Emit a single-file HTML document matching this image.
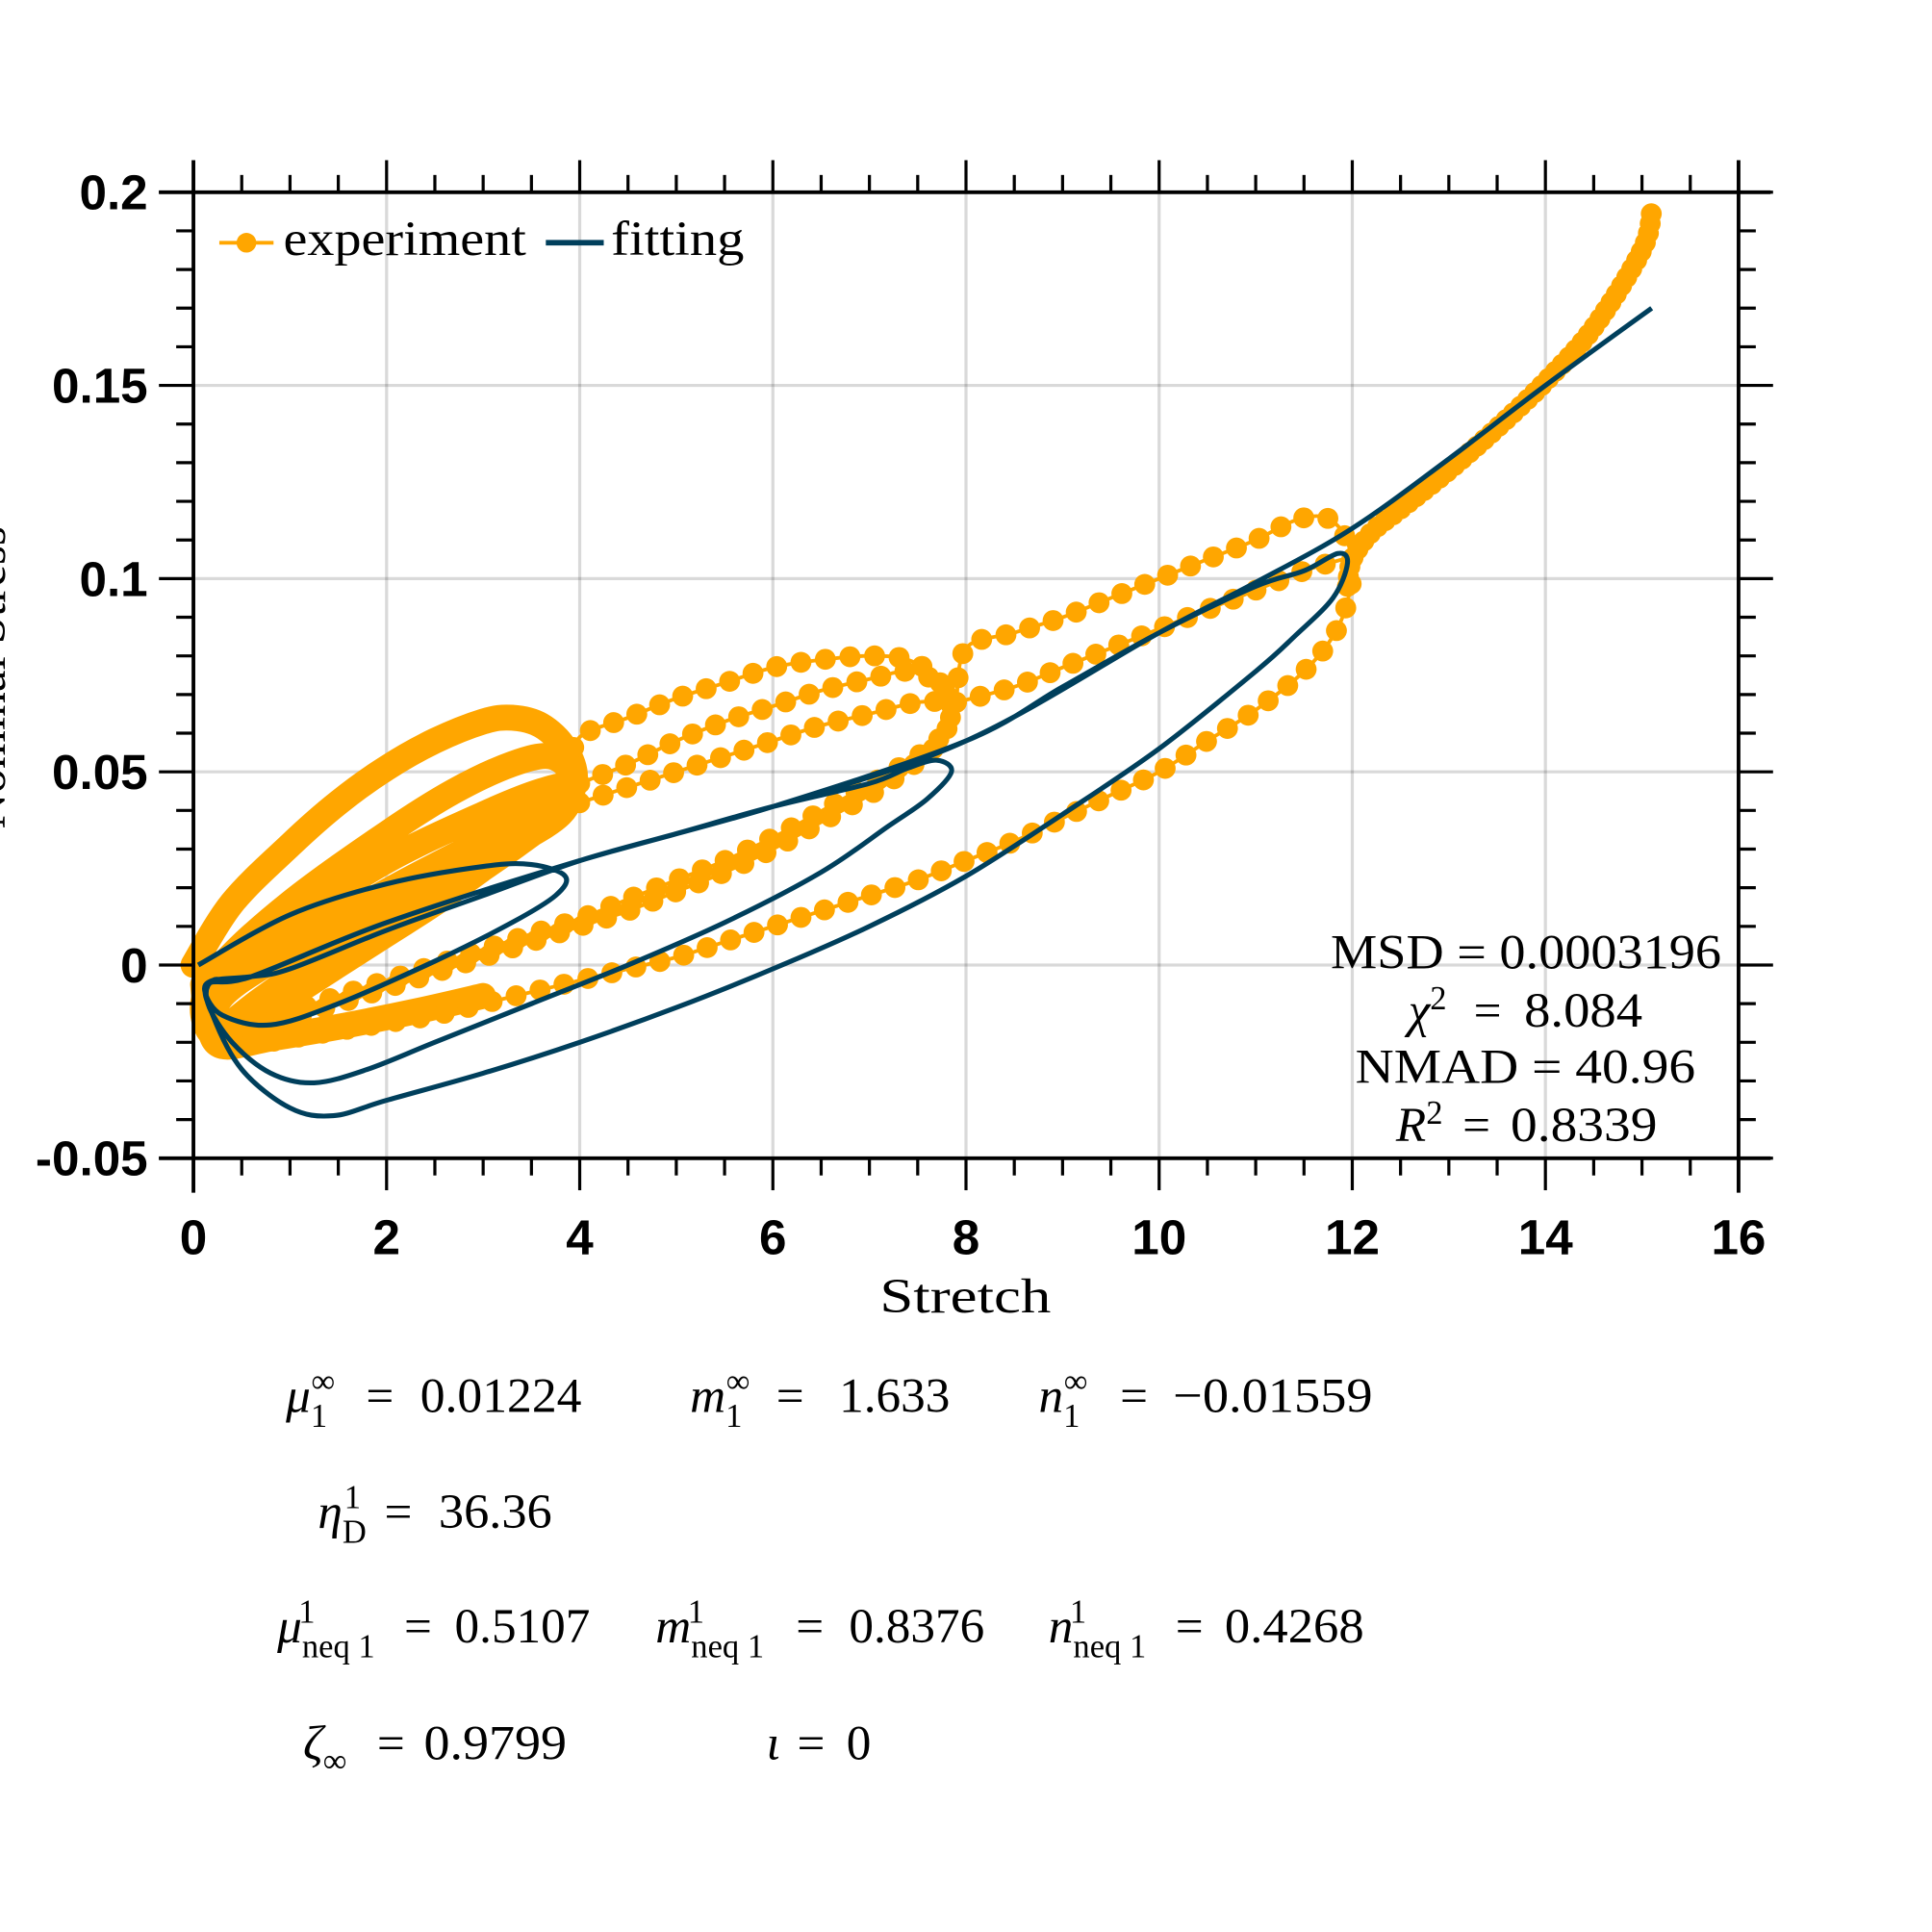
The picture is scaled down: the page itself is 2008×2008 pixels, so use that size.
<!DOCTYPE html>
<html><head><meta charset="utf-8">
<style>
html,body{margin:0;padding:0;background:#fff;}
svg{display:block;}
.tick{font-family:"Liberation Sans",sans-serif;font-weight:bold;font-size:40px;fill:#000;}
.m{font-family:"Liberation Serif",serif;font-size:40px;fill:#000;}
.s{font-size:27px;}
</style></head>
<body>
<svg id="chart" width="2008" height="2008" viewBox="0 0 1568 1568" xmlns="http://www.w3.org/2000/svg">
<g id="grid"></g>
<g id="series"></g>
<g id="axes"></g>

<text class="m" x="714" y="1065" textLength="139" lengthAdjust="spacingAndGlyphs">Stretch</text>
<text class="m" transform="translate(4,550) rotate(-90)" text-anchor="middle">Nominal Stress</text>

<g>
  <g>
    <line x1="178" y1="197" x2="222" y2="197" stroke="#ffa600" stroke-width="3"/>
    <circle cx="200" cy="197" r="8" fill="#ffa600"/>
    <text class="m" x="230" y="207" textLength="197" lengthAdjust="spacingAndGlyphs">experiment</text>
  </g>
  <g>
    <line x1="443" y1="197" x2="490" y2="197" stroke="#003f5c" stroke-width="4.5"/>
    <text class="m" x="496" y="207" textLength="108" lengthAdjust="spacingAndGlyphs">fitting</text>
  </g>
</g>

<g>
  <text class="m" x="1080" y="786" textLength="317" lengthAdjust="spacingAndGlyphs">MSD = 0.0003196</text>
  <text class="m" x="1143" y="833"><tspan font-style="italic">χ</tspan><tspan class="s" dy="-14">2</tspan><tspan dy="14" x="1196">=</tspan><tspan x="1237" textLength="96" lengthAdjust="spacingAndGlyphs">8.084</tspan></text>
  <text class="m" x="1100" y="879" textLength="276" lengthAdjust="spacingAndGlyphs">NMAD = 40.96</text>
  <text class="m" x="1133" y="926"><tspan font-style="italic">R</tspan><tspan class="s" dy="-14">2</tspan><tspan dy="14" x="1187">=</tspan><tspan x="1226" textLength="119" lengthAdjust="spacingAndGlyphs">0.8339</tspan></text>
</g>

<g>
  <text class="m" x="232" y="1146"><tspan font-style="italic">μ</tspan><tspan class="s" dy="12">1</tspan><tspan class="s" dx="-13" dy="-28">∞</tspan><tspan dy="16" x="297">=</tspan><tspan x="341" textLength="131" lengthAdjust="spacingAndGlyphs">0.01224</tspan></text>
  <text class="m" x="560" y="1146"><tspan font-style="italic">m</tspan><tspan class="s" dy="12">1</tspan><tspan class="s" dx="-13" dy="-28">∞</tspan><tspan dy="16" x="630">=</tspan><tspan x="681" textLength="90" lengthAdjust="spacingAndGlyphs">1.633</tspan></text>
  <text class="m" x="843" y="1146"><tspan font-style="italic">n</tspan><tspan class="s" dy="12">1</tspan><tspan class="s" dx="-13" dy="-28">∞</tspan><tspan dy="16" x="909">=</tspan><tspan x="952" textLength="162" lengthAdjust="spacingAndGlyphs">−0.01559</tspan></text>
  <text class="m" x="258" y="1240"><tspan font-style="italic">η</tspan><tspan class="s" dy="12">D</tspan><tspan class="s" dx="-18" dy="-28">1</tspan><tspan dy="16" x="312">=</tspan><tspan x="356" textLength="92" lengthAdjust="spacingAndGlyphs">36.36</tspan></text>
  <text class="m" x="225" y="1333"><tspan font-style="italic">μ</tspan><tspan class="s" dy="12">neq 1</tspan><tspan class="s" dx="-62" dy="-28">1</tspan><tspan dy="16" x="328">=</tspan><tspan x="369" textLength="110" lengthAdjust="spacingAndGlyphs">0.5107</tspan></text>
  <text class="m" x="532" y="1333"><tspan font-style="italic">m</tspan><tspan class="s" dy="12">neq 1</tspan><tspan class="s" dx="-62" dy="-28">1</tspan><tspan dy="16" x="646">=</tspan><tspan x="689" textLength="110" lengthAdjust="spacingAndGlyphs">0.8376</tspan></text>
  <text class="m" x="851" y="1333"><tspan font-style="italic">n</tspan><tspan class="s" dy="12">neq 1</tspan><tspan class="s" dx="-62" dy="-28">1</tspan><tspan dy="16" x="954">=</tspan><tspan x="994" textLength="113" lengthAdjust="spacingAndGlyphs">0.4268</tspan></text>
  <text class="m" x="246" y="1428"><tspan font-style="italic">ζ</tspan><tspan class="s" dy="10">∞</tspan><tspan dy="-10" x="306">=</tspan><tspan x="344" textLength="116" lengthAdjust="spacingAndGlyphs">0.9799</tspan></text>
  <text class="m" x="622" y="1428"><tspan font-style="italic">ι</tspan><tspan x="647">=</tspan><tspan x="687">0</tspan></text>
</g>
</svg>

<script>
const xTicks = [0,2,4,6,8,10,12,14,16];
const yTicks = [-0.05,0,0.05,0.1,0.15,0.2];
const yTickLabels = ["-0.05","0","0.05","0.1","0.15","0.2"];
// experiment segments: [stretch, stress]
const expDense1 = [[0,0.0],[0.4,0.016],[1,0.031],[1.5,0.042],[2,0.051],[2.5,0.058],[3,0.063],[3.3,0.064],[3.6,0.062],[3.85,0.056],[3.95,0.048],[3.8,0.04],[3.4,0.032],[3,0.025],[2.5,0.016],[2,0.008],[1.5,0.0],[1,-0.008],[0.5,-0.015],[0.2,-0.018],[0.1,-0.01],[0.3,0.0],[1,0.016],[2,0.034],[2.7,0.045],[3.3,0.052],[3.7,0.054],[3.9,0.049],[3.7,0.04],[3,0.028],[2,0.012],[1,-0.004],[0.3,-0.016],[0.15,-0.008],[0.4,0.0],[1,0.011],[2,0.027],[3,0.039],[3.6,0.045],[3.9,0.046],[3.8,0.039],[3.3,0.031],[2.5,0.02],[1.5,0.005],[0.7,-0.009],[0.2,-0.018],[0.3,-0.008],[1,0.004],[2,0.019],[3,0.032],[3.9,0.043]];
const expDenseLow = [[0.1,-0.005],[0.15,-0.015],[0.3,-0.021],[0.8,-0.019],[1.5,-0.016],[2.3,-0.012],[3,-0.008]];
const expBeadB1 = [[3.9,0.05],[4,0.059],[4.5,0.064],[5,0.069],[5.5,0.073],[6,0.077],[6.5,0.079],[7,0.08],[7.4,0.079],[7.7,0.074],[7.85,0.066],[7.7,0.057],[7.3,0.049],[7,0.044],[6.5,0.037],[6,0.03],[5.5,0.024],[5,0.019],[4.5,0.014],[4,0.01],[3.5,0.006],[3,0.002],[2.5,-0.002],[2,-0.006],[1.5,-0.01],[1,-0.014],[0.5,-0.018],[0.25,-0.019]];
const expBeadB2 = [[4,0.047],[4.5,0.052],[5,0.058],[5.5,0.063],[6,0.067],[6.5,0.071],[7,0.074],[7.4,0.076],[7.7,0.073],[7.85,0.066],[7.7,0.058],[7.3,0.051],[6.8,0.044],[6.3,0.037],[6,0.033],[5.5,0.027],[5,0.022],[4.5,0.017],[4,0.012],[3.5,0.008],[3,0.004],[2.5,0.0],[2,-0.004],[1.5,-0.008],[1,-0.012],[0.5,-0.016],[0.25,-0.018]];
const expBeadB3 = [[4,0.042],[4.5,0.046],[5,0.05],[5.5,0.054],[6,0.058],[6.5,0.062],[7,0.065],[7.5,0.068],[7.9,0.068]];
const expBeadC1 = [[7.9,0.068],[8,0.082],[8.5,0.086],[9,0.09],[9.5,0.095],[10,0.1],[10.5,0.105],[11,0.11],[11.4,0.115],[11.7,0.116],[11.9,0.112],[12,0.104],[11.95,0.094],[11.8,0.085],[11.5,0.076],[11,0.066],[10.5,0.058],[10,0.05],[9.5,0.044],[9,0.038],[8.5,0.032],[8,0.027],[7.5,0.022],[7,0.018],[6.5,0.014],[6,0.01],[5.5,0.006],[5,0.002],[4.5,-0.001],[4,-0.004],[3.5,-0.007],[3,-0.01],[2.5,-0.013],[2,-0.015],[1.5,-0.017],[1,-0.019],[0.5,-0.021],[0.3,-0.021]];
const expBeadC2 = [[7.9,0.068],[8.5,0.072],[9,0.077],[9.5,0.082],[10,0.087],[10.5,0.092],[11,0.097],[11.5,0.102],[11.9,0.105]];
const expDense2 = [[11.95,0.098],[12,0.105],[12.2,0.112],[12.5,0.118],[13,0.128],[13.5,0.139],[14,0.151],[14.5,0.165],[15,0.185],[15.1,0.195]];
// fitting model curve
const fitCurve = [[0.05,0.0],[1,0.013],[2,0.021],[3,0.0255],[3.5,0.026],[3.85,0.023],[3.75,0.018],[3.3,0.011],[2.5,0.001],[1.5,-0.01],[0.8,-0.0155],[0.3,-0.013],[0.12,-0.007],[0.2,-0.004],[0.6,-0.003],[1,-0.001],[2,0.009],[3,0.018],[4,0.027],[5,0.034],[6,0.041],[7,0.047],[7.4,0.051],[7.7,0.053],[7.85,0.05],[7.6,0.043],[7.2,0.036],[6.5,0.024],[5.5,0.011],[4.5,0.0],[3.5,-0.01],[2.5,-0.02],[1.8,-0.027],[1.25,-0.0305],[0.8,-0.028],[0.4,-0.02],[0.15,-0.01],[0.2,-0.004],[0.6,-0.003],[2,0.011],[4,0.027],[6,0.041],[8,0.058],[9,0.072],[10,0.086],[11,0.098],[11.5,0.102],[11.85,0.1065],[11.95,0.104],[11.8,0.095],[11.4,0.085],[11,0.076],[10,0.056],[9,0.039],[8,0.023],[7,0.01],[6,-0.001],[5,-0.011],[4,-0.02],[3,-0.028],[2,-0.035],[1.45,-0.039],[1,-0.037],[0.5,-0.027],[0.2,-0.013],[0.15,-0.005],[0.6,-0.003],[2,0.011],[4,0.027],[6,0.041],[8,0.058],[10,0.086],[11,0.099],[12,0.113],[13,0.131],[14,0.15],[15.1,0.17]];

const X0=157, X1=1411, Y0=940, Y1=156;
const sx = v => X0 + (v-0)/(16-0)*(X1-X0);
const sy = v => Y0 - (v-(-0.05))/(0.25)*(Y0-Y1);
const NS='http://www.w3.org/2000/svg';
function mk(tag, attrs, parent){const e=document.createElementNS(NS,tag);for(const k in attrs)e.setAttribute(k,attrs[k]);parent.appendChild(e);return e;}
const grid=document.getElementById('grid'), axes=document.getElementById('axes'), series=document.getElementById('series');

xTicks.forEach(t=>{
  const g=mk('line',{x1:sx(t),x2:sx(t),y1:Y1,y2:Y0,stroke:'#000','stroke-opacity':0.15,'stroke-width':2.5},grid);
  
  
});
yTicks.forEach(t=>{
  const g=mk('line',{x1:X0,x2:X1,y1:sy(t),y2:sy(t),stroke:'#000','stroke-opacity':0.15,'stroke-width':2.5},grid);
  
  
});

// smooth path (Catmull-Rom -> cubic Bezier) through the data points
function path(pts){
  const P=pts.map(p=>[sx(p[0]),sy(p[1])]);
  let d='M'+P[0][0].toFixed(1)+','+P[0][1].toFixed(1);
  for(let i=0;i < P.length-1;i++){
    const p0=P[Math.max(i-1,0)],p1=P[i],p2=P[i+1],p3=P[Math.min(i+2,P.length-1)];
    const c1=[p1[0]+(p2[0]-p0[0])/6,p1[1]+(p2[1]-p0[1])/6];
    const c2=[p2[0]-(p3[0]-p1[0])/6,p2[1]-(p3[1]-p1[1])/6];
    d+=' C'+c1[0].toFixed(1)+','+c1[1].toFixed(1)+' '+c2[0].toFixed(1)+','+c2[1].toFixed(1)+' '+p2[0].toFixed(1)+','+p2[1].toFixed(1);
  }
  return d;
}
const OR='#ffa600';
[expDense1,expDenseLow].forEach(s=>{
  const p=mk('path',{d:path(s),fill:'none',stroke:OR,'stroke-width':21,'stroke-linejoin':'round','stroke-linecap':'round'},series);
  
  
});
[expBeadB1,expBeadB2,expBeadB3,expBeadC1,expBeadC2,expDense2].forEach((s,i)=>{
  const l=mk('path',{d:path(s),fill:'none',stroke:OR,'stroke-width':3},series);
  
  
  const b=mk('path',{d:path(s),fill:'none',stroke:OR,'stroke-width':17,'stroke-linecap':'round','stroke-dasharray':i===5?'0 8':'0 20'},series);
  
  
});
const fp=mk('path',{d:path(fitCurve),fill:'none',stroke:'#003f5c','stroke-width':4,'stroke-linejoin':'round'},series);



// axes spines
[[129,Y0,1437,Y0],[129,Y1,1437,Y1],[X0,130,X0,968],[X1,130,X1,968]].forEach(a=>{
  const l=mk('line',{x1:a[0],y1:a[1],x2:a[2],y2:a[3],stroke:'#000','stroke-width':3},axes);
  
  
});
for(let v=0; v <= 16.001; v+=0.5){
  const major=Math.abs(v/2-Math.round(v/2)) < 1e-6, L=major?26:14, x=sx(v);
  const a=mk('line',{x1:x,x2:x,y1:Y0,y2:Y0+L,stroke:'#000','stroke-width':2.5},axes);
  
  
  const b=mk('line',{x1:x,x2:x,y1:Y1,y2:Y1-L,stroke:'#000','stroke-width':2.5},axes);
  
  
}
for(let k=0;k <= 25;k++){
  const v=-0.05+k*0.01, major=k%5===0, L=major?28:14, y=sy(v);
  const a=mk('line',{x1:X0,x2:X0-L,y1:y,y2:y,stroke:'#000','stroke-width':2.5},axes);
  
  
  const b=mk('line',{x1:X1,x2:X1+L,y1:y,y2:y,stroke:'#000','stroke-width':2.5},axes);
  
  
}
xTicks.forEach(t=>{
  const e=mk('text',{x:sx(t),y:1018,'text-anchor':'middle','class':'tick'},axes);
  e.textContent=String(t);
  
  
});
yTicks.forEach((t,i)=>{
  const e=mk('text',{x:120,y:sy(t)+14,'text-anchor':'end','class':'tick'},axes);
  e.textContent=yTickLabels[i];
  
  
});
</script>
</body></html>
